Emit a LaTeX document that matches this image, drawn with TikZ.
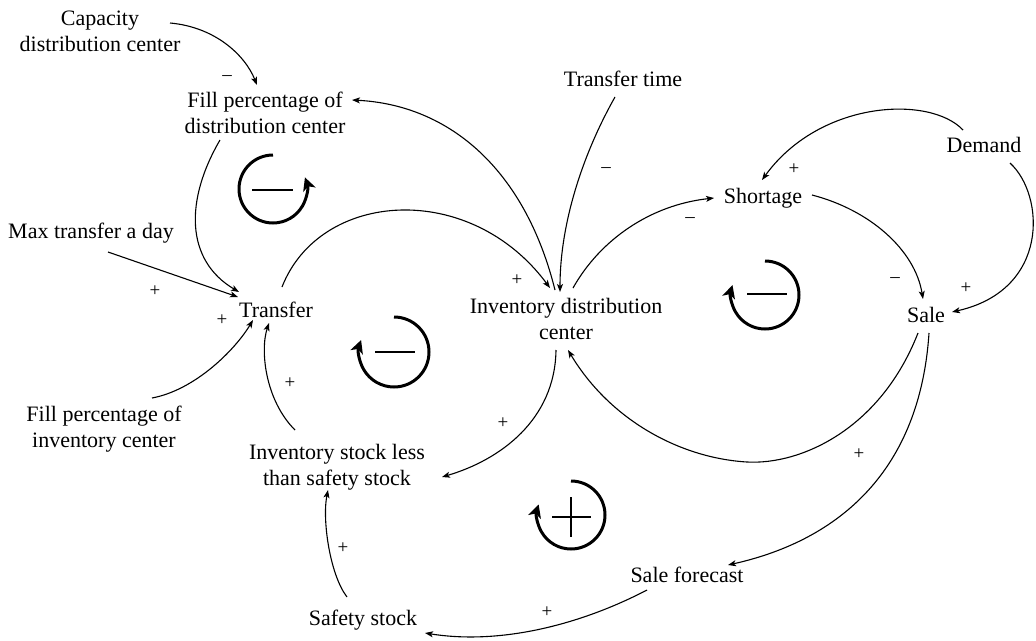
\documentclass[tikz,border=0pt]{standalone}
\usepackage{fontspec}
\setmainfont{Liberation Serif}
\usetikzlibrary{arrows.meta}
\newcommand\varfont{\fontsize{22}{26}\selectfont}
\newcommand\polfont{\fontsize{19}{22}\selectfont}
\begin{document}
\begin{tikzpicture}[x=1pt,y=-1pt,
  var/.style={font=\varfont, inner sep=0pt, align=center},
  link/.style={line width=1.1pt, -{Stealth[length=8pt,width=6pt,inset=2pt]}},
  pol/.style={font=\polfont, inner sep=0pt},
  loopsym/.style={line width=3pt, -{Stealth[length=13pt,width=13pt,inset=3.5pt]}},
  loopsign/.style={line width=1.3pt}]
\fill[white] (0,0) rectangle (1036,640);
\useasboundingbox (0,0) rectangle (1036,640);

% variables
\node[var] (cap) at (100,31.5) {Capacity\\distribution center};
\node[var] (fpd) at (265,112.5) {Fill percentage of\\distribution center};
\node[var,anchor=base] (tt) at (623,86) {Transfer time};
\node[var,anchor=base] (dem) at (984,152) {Demand};
\node[var,anchor=base] (sho) at (763,203) {Shortage};
\node[var,anchor=base] (mtd) at (91,238) {Max transfer a day};
\node[var,anchor=base] (tra) at (276,317) {Transfer};
\node[var] (idc) at (566,318.5) {Inventory distribution\\center};
\node[var,anchor=base] (sale) at (926,322) {Sale};
\node[var] (fpi) at (104,429) {Fill percentage of\\inventory center};
\node[var] (isl) at (337,467) {Inventory stock less\\than safety stock};
\node[var,anchor=base] (sf) at (687,582) {Sale forecast};
\node[var,anchor=base] (ss) at (363,625) {Safety stock};

% causal links
\draw[link] ([shift={(70,-8.5)}]cap.center) .. controls (215,27) and (245,55) .. ([shift={(-8,-27.5)}]fpd.center);
\draw[link] ([shift={(-11,-28.5)}]idc.center) .. controls (525,170) and (450,105) .. ([shift={(87,-12.5)}]fpd.center);
\draw[link] ([shift={(-8,11)}]tt.base) .. controls (585,150) and (560,220) .. ([shift={(-6,-26.5)}]idc.center);
\draw[link] ([shift={(7,-30.5)}]idc.center) .. controls (600,240) and (650,205) .. ([shift={(-49,-5)}]sho.base);
\draw[link] ([shift={(-21,-22)}]dem.base) .. controls (930,95) and (820,100) .. ([shift={(-1,-23)}]sho.base);
\draw[link] ([shift={(26,11)}]dem.base) .. controls (1045,195) and (1050,290) .. ([shift={(26,-10)}]sale.base);
\draw[link] ([shift={(49,-8)}]sho.base) .. controls (870,210) and (915,250) .. ([shift={(-3,-23)}]sale.base);
\draw[link] ([shift={(-8,11)}]sale.base) .. controls (880,430) and (800,465) .. (747,462) .. controls (680,458) and (610,420) .. ([shift={(2,31.5)}]idc.center);
\draw[link] ([shift={(3,11)}]sale.base) .. controls (920,470) and (840,540) .. ([shift={(41,-17)}]sf.base);
\draw[link] ([shift={(-40,8)}]sf.base) .. controls (580,625) and (500,645) .. ([shift={(62,8)}]ss.base);
\draw[link] ([shift={(-16,-28)}]ss.base) .. controls (330,575) and (322,520) .. ([shift={(-9,23)}]isl.center);
\draw[link] ([shift={(-10,31.5)}]idc.center) .. controls (555,420) and (500,460) .. ([shift={(105,10)}]isl.center);
\draw[link] ([shift={(-42,-37)}]isl.center) .. controls (265,400) and (260,350) .. ([shift={(-7,6)}]tra.base);
\draw[link] ([shift={(48,-31)}]fpi.center) .. controls (195,390) and (235,350) .. ([shift={(-23,3)}]tra.base);
\draw[link] ([shift={(17,14)}]mtd.base) -- ([shift={(-38,-20)}]tra.base);
\draw[link] ([shift={(-45,27.5)}]fpd.center) .. controls (185,200) and (185,260) .. ([shift={(-37,-25)}]tra.base);
\draw[link] ([shift={(6,-30)}]tra.base) .. controls (320,190) and (470,180) .. ([shift={(-16,-30.5)}]idc.center);

% link polarities
\node[pol] (pa) at (227,78) {–};
\node[pol] (pq) at (517,280) {+};
\node[pol] (pc) at (606,170) {–};
\node[pol] (pd) at (690,220) {–};
\node[pol] (pe) at (794,169) {+};
\node[pol] (pf) at (966,288) {+};
\node[pol] (pg) at (895,280) {–};
\node[pol] (pi) at (859,454) {+};
\node[pol] (pj) at (547,612) {+};
\node[pol] (pk) at (343,548) {+};
\node[pol] (pl) at (503,423) {+};
\node[pol] (pm) at (290,383) {+};
\node[pol] (pn) at (222,320) {+};
\node[pol] (po) at (155,291) {+};

% loop markers
\coordinate (L1) at (273,189);
\coordinate (L2) at (394,352);
\coordinate (L3) at (765,295);
\coordinate (L4) at (571,515);
\draw[loopsym] (L1) ++(270:34) arc[start angle=270, end angle=-20, radius=34];
\draw[loopsign] (L1) ++(-21,1) -- ++(41,0);
\draw[loopsym] (L2) ++(270:35) arc[start angle=-90, end angle=200, radius=35];
\draw[loopsign] (L2) ++(-19,0) -- ++(40,0);
\draw[loopsym] (L3) ++(270:34) arc[start angle=-90, end angle=197, radius=34];
\draw[loopsign] (L3) ++(-18,-1) -- ++(40,0);
\draw[loopsym] (L4) ++(270:34) arc[start angle=-90, end angle=198, radius=34];
\draw[loopsign] (L4) ++(-19,2) -- ++(39,0);
\draw[loopsign] (L4) ++(0,-18) -- ++(0,40);
\end{tikzpicture}
\end{document}
